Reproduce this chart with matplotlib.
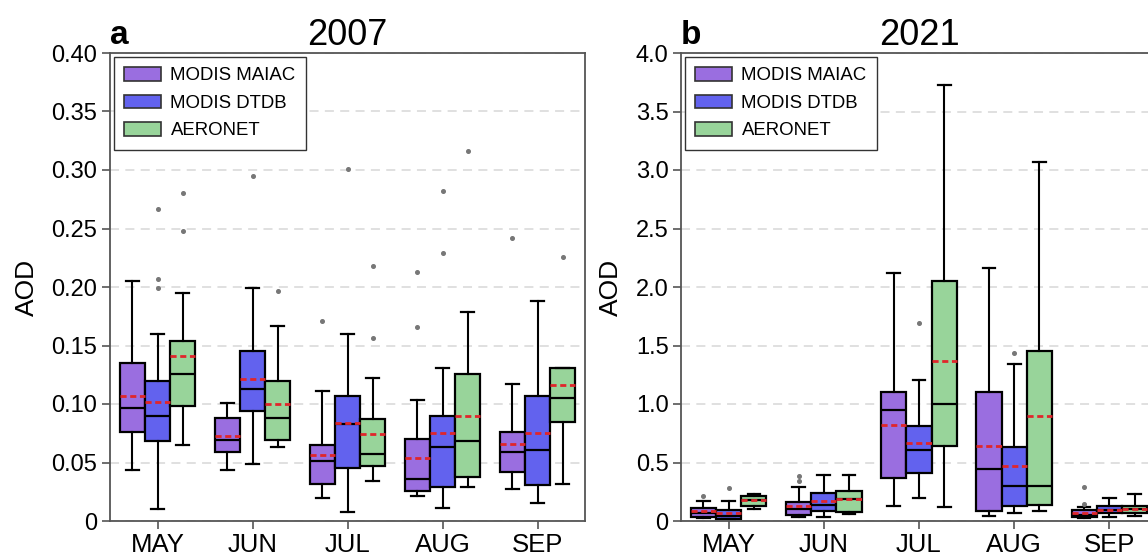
import numpy as np
import matplotlib.pyplot as plt
from matplotlib.patches import Patch

plt.rcParams['font.family'] = ['Liberation Sans', 'DejaVu Sans']

months = ['MAY', 'JUN', 'JUL', 'AUG', 'SEP']
products = ['MODIS MAIAC', 'MODIS DTDB', 'AERONET']
colors = ['#9a6ee0', '#6262ee', '#98d49a']

# ---- 2007 (panel a) ----
maiac07_lo = [0.044, 0.044, 0.020, 0.021, 0.027]
maiac07_q1 = [0.076, 0.059, 0.032, 0.026, 0.042]
maiac07_med = [0.097, 0.069, 0.051, 0.036, 0.059]
maiac07_q3 = [0.135, 0.088, 0.065, 0.070, 0.076]
maiac07_hi = [0.205, 0.101, 0.111, 0.103, 0.117]
maiac07_mean = [0.107, 0.073, 0.056, 0.054, 0.066]
maiac07_out = [[], [], [0.171], [0.213, 0.166], [0.242]]

dtdb07_lo = [0.010, 0.049, 0.008, 0.011, 0.015]
dtdb07_q1 = [0.068, 0.094, 0.045, 0.029, 0.031]
dtdb07_med = [0.090, 0.113, 0.083, 0.063, 0.061]
dtdb07_q3 = [0.120, 0.145, 0.107, 0.090, 0.107]
dtdb07_hi = [0.160, 0.199, 0.160, 0.131, 0.188]
dtdb07_mean = [0.102, 0.121, 0.084, 0.075, 0.075]
dtdb07_out = [[0.267, 0.207, 0.199], [0.295], [0.301], [0.282, 0.229], []]

aero07_lo = [0.065, 0.063, 0.034, 0.029, 0.032]
aero07_q1 = [0.098, 0.069, 0.047, 0.038, 0.085]
aero07_med = [0.126, 0.088, 0.057, 0.068, 0.105]
aero07_q3 = [0.154, 0.120, 0.087, 0.126, 0.131]
aero07_hi = [0.195, 0.167, 0.122, 0.179, 0.131]
aero07_mean = [0.141, 0.100, 0.074, 0.090, 0.116]
aero07_out = [[0.280, 0.248], [0.197], [0.218, 0.156], [0.316], [0.226]]

# ---- 2021 (panel b) ----
maiac21_lo = [0.026, 0.031, 0.124, 0.042, 0.029]
maiac21_q1 = [0.034, 0.054, 0.368, 0.085, 0.037]
maiac21_med = [0.066, 0.100, 0.945, 0.441, 0.055]
maiac21_q3 = [0.111, 0.166, 1.106, 1.106, 0.091]
maiac21_hi = [0.174, 0.289, 2.120, 2.160, 0.120]
maiac21_mean = [0.085, 0.131, 0.823, 0.639, 0.065]
maiac21_out = [[0.217], [0.388, 0.342], [], [], [0.291, 0.149]]

dtdb21_lo = [0.014, 0.037, 0.198, 0.068, 0.037]
dtdb21_q1 = [0.017, 0.085, 0.413, 0.127, 0.066]
dtdb21_med = [0.043, 0.141, 0.608, 0.300, 0.094]
dtdb21_q3 = [0.094, 0.238, 0.812, 0.636, 0.129]
dtdb21_hi = [0.174, 0.393, 1.208, 1.341, 0.200]
dtdb21_mean = [0.066, 0.173, 0.665, 0.470, 0.097]
dtdb21_out = [[0.283], [], [1.694], [1.434], []]

aero21_lo = [0.100, 0.059, 0.119, 0.085, 0.043]
aero21_q1 = [0.129, 0.076, 0.642, 0.141, 0.071]
aero21_med = [0.177, 0.190, 0.996, 0.300, 0.100]
aero21_q3 = [0.214, 0.257, 2.054, 1.457, 0.129]
aero21_hi = [0.231, 0.396, 3.729, 3.071, 0.229]
aero21_mean = [0.177, 0.192, 1.369, 0.897, 0.100]
aero21_out = [[], [], [], [], []]


def stats(lo, q1, med, q3, hi, mean, out):
    return [dict(whislo=lo[i], q1=q1[i], med=med[i], q3=q3[i],
                 whishi=hi[i], mean=mean[i], fliers=out[i])
            for i in range(len(lo))]


panel_a = [stats(maiac07_lo, maiac07_q1, maiac07_med, maiac07_q3, maiac07_hi, maiac07_mean, maiac07_out),
           stats(dtdb07_lo, dtdb07_q1, dtdb07_med, dtdb07_q3, dtdb07_hi, dtdb07_mean, dtdb07_out),
           stats(aero07_lo, aero07_q1, aero07_med, aero07_q3, aero07_hi, aero07_mean, aero07_out)]
panel_b = [stats(maiac21_lo, maiac21_q1, maiac21_med, maiac21_q3, maiac21_hi, maiac21_mean, maiac21_out),
           stats(dtdb21_lo, dtdb21_q1, dtdb21_med, dtdb21_q3, dtdb21_hi, dtdb21_mean, dtdb21_out),
           stats(aero21_lo, aero21_q1, aero21_med, aero21_q3, aero21_hi, aero21_mean, aero21_out)]


def draw(ax, panel, ymax, yticks, yticklabels, title, letter):
    w = 0.265
    x = np.arange(1, len(months) + 1)
    for k, st in enumerate(panel):
        ax.bxp(st, positions=x + (k - 1) * w, widths=w, patch_artist=True,
               showmeans=True, meanline=True, manage_ticks=False,
               boxprops=dict(facecolor=colors[k], edgecolor='k', linewidth=1.6),
               medianprops=dict(color='k', linewidth=1.6),
               meanprops=dict(color='#e0262b', linestyle=(0, (2.2, 1.3)), linewidth=2.0),
               whiskerprops=dict(color='k', linewidth=1.5),
               capprops=dict(color='k', linewidth=1.6),
               flierprops=dict(marker='o', markersize=2.6, markerfacecolor='#777777',
                               markeredgecolor='#777777'))
    ax.set_xlim(0.5, 5.5)
    ax.set_ylim(0, ymax)
    ax.set_xticks(x)
    ax.set_xticklabels(months)
    ax.set_yticks(yticks)
    ax.set_yticklabels(yticklabels)
    ax.yaxis.grid(True, linestyle=(0, (5, 3.5)), color='#dddddd', linewidth=1.3)
    ax.set_axisbelow(True)
    for s in ax.spines.values():
        s.set_color('#555555')
        s.set_linewidth(1.3)
    ax.tick_params(axis='both', length=6, width=1.2, color='#555555', pad=3)
    ax.tick_params(axis='y', labelsize=17)
    ax.tick_params(axis='x', labelsize=18.5)
    ax.set_ylabel('AOD', fontsize=19, labelpad=9)
    ax.set_title(title, fontsize=26, pad=6)
    ax.text(0, 1 + 9 / 468, letter, transform=ax.transAxes, fontsize=24,
            fontweight='bold', ha='left', va='baseline')
    handles = [Patch(facecolor=c, edgecolor='#333333', linewidth=1.2) for c in colors]
    leg = ax.legend(handles, products, loc='upper left', fontsize=13.4, fancybox=False,
                    edgecolor='#333333', framealpha=1, borderaxespad=0.2,
                    borderpad=0.55, labelspacing=0.55, handlelength=2.0,
                    handleheight=0.75, handletextpad=0.5)
    leg.get_frame().set_linewidth(1.0)


fig = plt.figure(figsize=(11.48, 5.57), dpi=100)
ax1 = fig.add_axes([110 / 1148, 36 / 557, 475 / 1148, 468 / 557])
ax2 = fig.add_axes([681 / 1148, 36 / 557, 476 / 1148, 468 / 557])

ticks_a = np.arange(0, 0.41, 0.05)
labels_a = ['0'] + ['%.2f' % t for t in ticks_a[1:]]
ticks_b = np.arange(0, 4.01, 0.5)
labels_b = ['0'] + ['%.1f' % t for t in ticks_b[1:]]

draw(ax1, panel_a, 0.40, ticks_a, labels_a, '2007', 'a')
draw(ax2, panel_b, 4.0, ticks_b, labels_b, '2021', 'b')

fig.savefig('out.png', dpi=100)
